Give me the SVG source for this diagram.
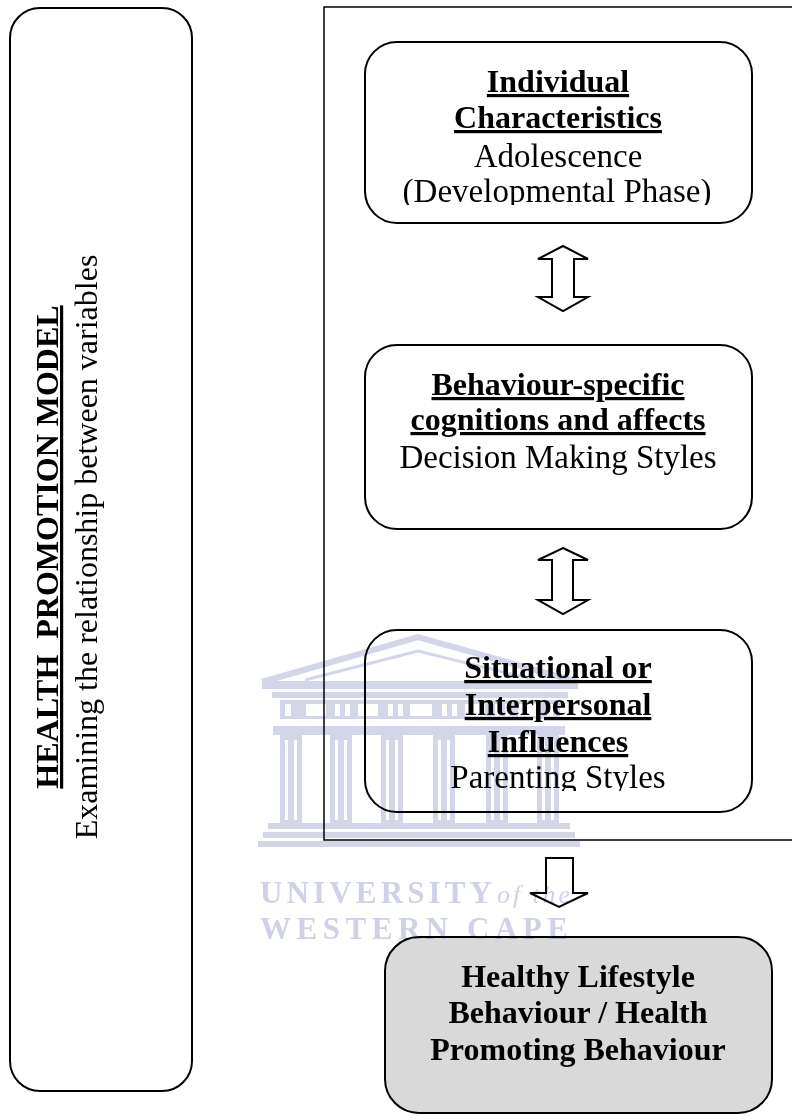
<svg xmlns="http://www.w3.org/2000/svg" width="792" height="1116" viewBox="0 0 792 1116">
<style>
.box{fill:none;stroke:#000;stroke-width:2}
.t{font-family:"Liberation Serif","Times New Roman",serif;fill:#000;text-anchor:middle}
.b{font-weight:bold;font-size:32px}
.bu{font-weight:bold;font-size:32px;text-decoration:underline}
.r{font-size:33px}
.rl{font-size:32px}
.arr{fill:#fff;stroke:#000;stroke-width:2;stroke-linejoin:miter}
.wm{fill:#d3d6e9}
.wmt{font-family:"Liberation Serif","Times New Roman",serif;fill:#cfd2e6;font-weight:bold}
</style>
<defs>
<clipPath id="c1"><rect x="365" y="42" width="387" height="163"/></clipPath>
<clipPath id="c3"><rect x="365" y="630" width="387" height="161"/></clipPath>
</defs>
<rect width="792" height="1116" fill="#fff"/>

<g id="frame">
<rect x="324" y="7" width="490" height="833" fill="none" stroke="#000" stroke-width="1.5"/>
</g>

<g id="model">
<rect class="box" x="10" y="8" width="182" height="1083" rx="30" ry="30"/>
<text class="t bu" xml:space="preserve" transform="translate(58,547) rotate(-90)">HEALTH  PROMOTION MODEL</text>
<text class="t rl" transform="translate(97,547) rotate(-90)">Examining the relationship between variables</text>
</g>

<g id="individual">
<rect class="box" x="365" y="42" width="387" height="181" rx="32" ry="32"/>
<g clip-path="url(#c1)">
<text class="t bu" x="558" y="92">Individual</text>
<text class="t bu" x="558" y="128">Characteristics</text>
<text class="t r" x="558" y="167">Adolescence</text>
<text class="t r" x="557" y="202">(Developmental Phase)</text>
</g>
</g>

<g id="behaviour">
<rect class="box" x="365" y="345" width="387" height="184" rx="32" ry="32"/>
<text class="t bu" x="558" y="395">Behaviour-specific</text>
<text class="t bu" x="558" y="430">cognitions and affects</text>
<text class="t r" x="558" y="468">Decision Making Styles</text>
</g>

<g id="situational">
<rect class="box" x="365" y="630" width="387" height="182" rx="32" ry="32"/>
<g clip-path="url(#c3)">
<text class="t bu" x="558" y="678">Situational or</text>
<text class="t bu" x="558" y="715">Interpersonal</text>
<text class="t bu" x="558" y="752">Influences</text>
<text class="t r" x="558" y="788">Parenting Styles</text>
</g>
</g>

<g id="outcome">
<rect x="385" y="937" width="387" height="176" rx="34" ry="34" fill="#d9d9d9" stroke="#000" stroke-width="2"/>
<text class="t b" x="578" y="987">Healthy Lifestyle</text>
<text class="t b" x="578" y="1023">Behaviour / Health</text>
<text class="t b" x="578" y="1060">Promoting Behaviour</text>
</g>

<g id="connectors">
<polygon class="arr" points="563,246 588,259 574,259 574,297 588,297 563,311 538,297 552,297 552,259 538,259"/>
<polygon class="arr" points="563,548 588,560 573,560 573,600 588,600 563,614 538,600 552,600 552,560 538,560"/>
<polygon class="arr" points="546,858 573,858 573,893 588,893 559,907 530,893 546,893"/>
</g>

<g id="watermark" style="mix-blend-mode:multiply">
<polyline points="262,682 418,637 578,682" fill="none" stroke="#d3d6e9" stroke-width="6"/>
<polyline points="305,680 418,651 535,680" fill="none" stroke="#d3d6e9" stroke-width="3"/>
<rect class="wm" x="262" y="681" width="316" height="8"/>
<rect class="wm" x="272" y="692" width="296" height="6"/>
<rect class="wm" x="280" y="700" width="280" height="19"/>
<g fill="#fff">
<rect x="285" y="704" width="6" height="12"/><rect x="306" y="704" width="20" height="12"/>
<rect x="335" y="704" width="5" height="12"/><rect x="345" y="704" width="5" height="12"/>
<rect x="358" y="704" width="20" height="12"/><rect x="388" y="704" width="5" height="12"/>
<rect x="398" y="704" width="5" height="12"/><rect x="410" y="704" width="22" height="12"/>
<rect x="442" y="704" width="5" height="12"/><rect x="452" y="704" width="5" height="12"/>
<rect x="465" y="704" width="20" height="12"/><rect x="495" y="704" width="5" height="12"/>
<rect x="505" y="704" width="5" height="12"/><rect x="518" y="704" width="20" height="12"/>
<rect x="547" y="704" width="6" height="12"/>
</g>
<rect class="wm" x="273" y="726" width="292" height="9"/>
<g class="wm">
<rect x="280" y="735" width="22" height="88"/><rect x="330" y="735" width="22" height="88"/>
<rect x="381" y="735" width="22" height="88"/><rect x="433" y="735" width="22" height="88"/>
<rect x="486" y="735" width="22" height="88"/><rect x="537" y="735" width="22" height="88"/>
</g>
<g fill="#fff">
<rect x="285" y="740" width="3" height="80"/><rect x="294" y="740" width="3" height="80"/>
<rect x="335" y="740" width="3" height="80"/><rect x="344" y="740" width="3" height="80"/>
<rect x="386" y="740" width="3" height="80"/><rect x="395" y="740" width="3" height="80"/>
<rect x="438" y="740" width="3" height="80"/><rect x="447" y="740" width="3" height="80"/>
<rect x="491" y="740" width="3" height="80"/><rect x="500" y="740" width="3" height="80"/>
<rect x="542" y="740" width="3" height="80"/><rect x="551" y="740" width="3" height="80"/>
</g>
<rect class="wm" x="268" y="823" width="302" height="6"/>
<rect class="wm" x="263" y="832" width="312" height="6"/>
<rect class="wm" x="258" y="841" width="322" height="6"/>
<text class="wmt" x="260" y="903" font-size="31" textLength="232" lengthAdjust="spacing">UNIVERSITY</text>
<text x="497" y="903" font-family="'Liberation Serif','Times New Roman',serif" font-style="italic" font-size="26" fill="#cfd2e6" textLength="73" lengthAdjust="spacing">of the</text>
<text class="wmt" x="260" y="939" font-size="31" textLength="308" lengthAdjust="spacing">WESTERN CAPE</text>
</g>
</svg>
